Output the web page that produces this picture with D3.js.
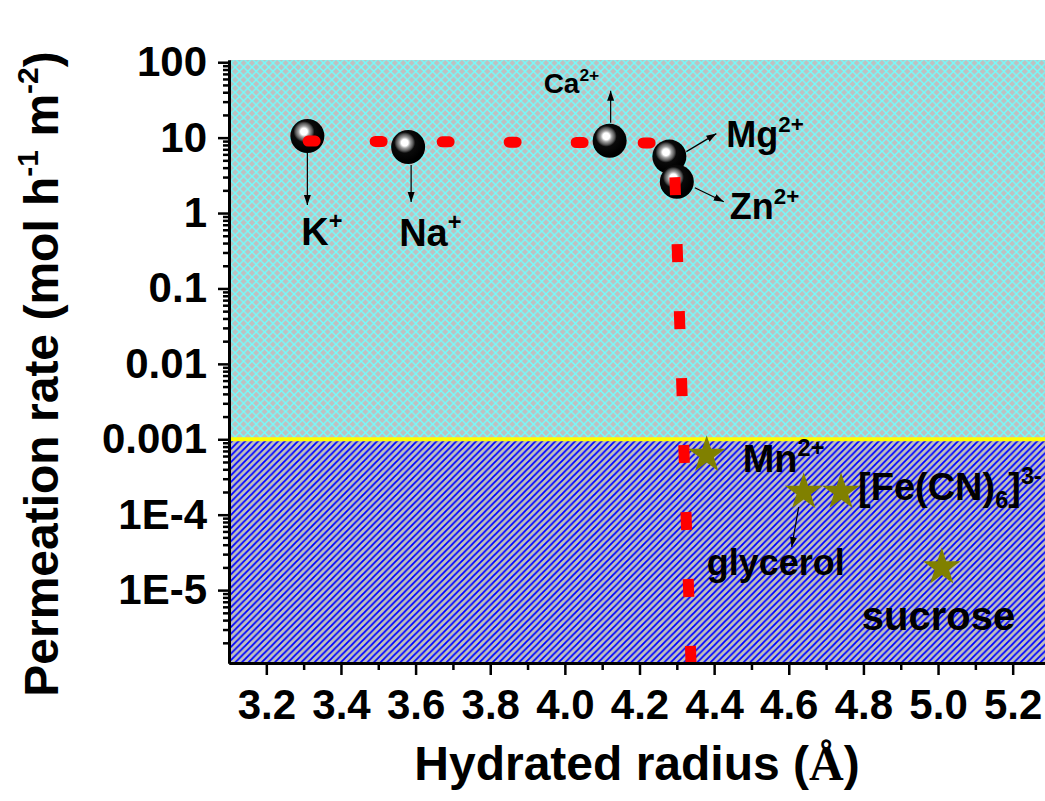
<!DOCTYPE html>
<html>
<head>
<meta charset="utf-8">
<script src="https://cdn.jsdelivr.net/npm/d3@7"></script>
<style>
  body { margin: 0; background: #fff; }
  svg { display: block; }
  text { font-family: "Liberation Sans", Arial, sans-serif; font-weight: bold; fill: #000; }
</style>
</head>
<body>
<svg id="chart" width="1045" height="801"></svg>
<script>
// ---- data ----
const xTicks = [3.2, 3.4, 3.6, 3.8, 4.0, 4.2, 4.4, 4.6, 4.8, 5.0, 5.2];
const xTickLabels = ["3.2", "3.4", "3.6", "3.8", "4.0", "4.2", "4.4", "4.6", "4.8", "5.0", "5.2"];
const yTicks = [100, 10, 1, 0.1, 0.01, 0.001, 1e-4, 1e-5];
const yTickLabels = ["100", "10", "1", "0.1", "0.01", "0.001", "1E-4", "1E-5"];

// ions that pass (black balls)
const ionNames = ["K+", "Na+", "Ca2+", "Mg2+", "Zn2+"];
const ionRadius = [3.31, 3.58, 4.12, 4.28, 4.30];
const ionRate = [10.5, 7.5, 9.1, 5.6, 2.6];

// rejected species (stars)
const molNames = ["Mn2+", "glycerol", "[Fe(CN)6]3-", "sucrose"];
const molRadius = [4.38, 4.64, 4.74, 5.01];
const molRate = [6.2e-4, 2.0e-4, 2.0e-4, 2.0e-5];

// red dashed guide
const guideRadius = [3.296, 4.22, 4.293, 4.338];
const guideRate = [9.0, 8.5, 5.5, 1.08e-6];

// cutoff between the two regions
const cutoffRate = 0.001;

// ---- layout ----
const svg = d3.select("#chart");
const x = d3.scaleLinear().domain([3.1, 5.3]).range([229, 1050]);
const y = d3.scaleLog().domain([1.08e-6, 107]).range([663, 60]);

const defs = svg.append("defs");

const cross = defs.append("pattern")
  .attr("id", "cross").attr("patternUnits", "userSpaceOnUse")
  .attr("width", 8.4).attr("height", 8.4);
cross.append("rect").attr("width", 8.4).attr("height", 8.4).attr("fill", "#c0c0c0");
cross.append("path").attr("d", "M0,0L8.4,8.4M0,8.4L8.4,0")
  .attr("stroke", "#70ffff").attr("stroke-width", 1.4);

const hatch = defs.append("pattern")
  .attr("id", "hatch").attr("patternUnits", "userSpaceOnUse")
  .attr("width", 6.6).attr("height", 6.6);
hatch.append("rect").attr("width", 6.6).attr("height", 6.6).attr("fill", "#c0c0c0");
hatch.append("path").attr("d", "M0,6.6L6.6,0M-1,1L1,-1M5.6,7.6L7.6,5.6")
  .attr("stroke", "#0000ff").attr("stroke-width", 1.8);

const ball = defs.append("radialGradient").attr("id", "ball")
  .attr("cx", 0.4).attr("cy", 0.37).attr("r", 0.55);
[[0, "#ffffff"], [0.18, "#ffffff"], [0.3, "#a0a0a0"], [0.45, "#555"], [0.56, "#0a0a0a"], [1, "#000"]]
  .forEach(([o, c]) => ball.append("stop").attr("offset", o).attr("stop-color", c));

defs.append("marker").attr("id", "arrow")
  .attr("viewBox", "0 0 10 10").attr("refX", 10).attr("refY", 5)
  .attr("markerWidth", 10).attr("markerHeight", 10)
  .attr("markerUnits", "userSpaceOnUse").attr("orient", "auto")
  .append("path").attr("d", "M0,1.5L10,5L0,8.5Z").attr("fill", "#000");

// background regions
const [x0, x1] = x.range();
svg.append("rect")
  .attr("x", x0).attr("y", y.range()[1])
  .attr("width", x1 - x0).attr("height", y(cutoffRate) - y.range()[1])
  .attr("fill", "url(#cross)");
svg.append("rect")
  .attr("x", x0).attr("y", y(cutoffRate))
  .attr("width", x1 - x0).attr("height", y.range()[0] - y(cutoffRate))
  .attr("fill", "url(#hatch)");
svg.append("line")
  .attr("x1", x0).attr("x2", x1)
  .attr("y1", y(cutoffRate)).attr("y2", y(cutoffRate))
  .attr("stroke", "#ffff00").attr("stroke-width", 4);

// balls
const ions = ionNames.map((n, i) => ({ name: n, r: ionRadius[i], v: ionRate[i] }));
svg.append("g").selectAll("circle")
  .data(ions).join("circle")
  .attr("cx", d => x(d.r)).attr("cy", d => y(d.v))
  .attr("r", 17).attr("fill", "url(#ball)");

// stars
const mols = molNames.map((n, i) => ({ name: n, r: molRadius[i], v: molRate[i] }));
svg.append("g").selectAll("path")
  .data(mols).join("path")
  .attr("transform", d => `translate(${x(d.r)},${y(d.v)})`)
  .attr("d", d3.symbol(d3.symbolStar, 440))
  .attr("fill", "#808000");

// red dashed guide: horizontal part with rounded dashes, vertical with square ones
const guide = guideRadius.map((r, i) => ({ r, v: guideRate[i] }));
const line = d3.line().x(d => x(d.r)).y(d => y(d.v));
svg.append("path")
  .attr("d", line(guide.slice(0, 2)))
  .attr("fill", "none").attr("stroke", "#ff0000")
  .attr("stroke-width", 11).attr("stroke-linecap", "round")
  .attr("stroke-dasharray", "7 60").attr("transform", "translate(6,0)");
svg.append("path")
  .attr("d", line(guide.slice(2)))
  .attr("fill", "none").attr("stroke", "#ff0000")
  .attr("stroke-width", 11).attr("stroke-dasharray", "18 49")
  .attr("stroke-dashoffset", 47);

// annotations (pixel offsets from each mark)
const notes = {
  "K+":          { parts: [["K"], ["+", "sup"]], size: 38, lx: -6, ly: 109, arrow: [0, 17, 0, 69] },
  "Na+":         { parts: [["Na"], ["+", "sup"]], size: 38, lx: -9, ly: 99, arrow: [3, 18, 3, 55] },
  "Ca2+":        { parts: [["Ca"], ["2+", "sup"]], size: 28, lx: -66, ly: -48, arrow: [1, -18, 1, -50] },
  "Mg2+":        { parts: [["Mg"], ["2+", "sup"]], size: 36, lx: 57, ly: -10, arrow: [17, -5, 47, -23] },
  "Zn2+":        { parts: [["Zn"], ["2+", "sup"]], size: 36, lx: 53, ly: 37, arrow: [18, 6, 47, 20] },
  "Mn2+":        { parts: [["Mn"], ["2+", "sup"]], size: 38, lx: 36, ly: 17 },
  "glycerol":    { parts: [["glycerol"]], size: 36, lx: -97, ly: 83, arrow: [-5, 15, -12, 55] },
  "[Fe(CN)6]3-": { parts: [["[Fe(CN)"], ["6", "sub"], ["]"], ["3-", "sup"]], size: 38, lx: 17, ly: 8 },
  "sucrose":     { parts: [["sucrose"]], size: 40, lx: -80, ly: 63 }
};

function richText(g, parts, size) {
  const t = g.append("text").attr("font-size", size);
  let shift = 0;
  parts.forEach(([s, kind]) => {
    const target = kind === "sup" ? -0.42 * size : kind === "sub" ? 0.22 * size : 0;
    t.append("tspan")
      .attr("dy", target - shift)
      .attr("font-size", kind ? size * 0.62 : size)
      .text(s);
    shift = target;
  });
  return t;
}

ions.concat(mols).forEach(d => {
  const n = notes[d.name];
  const px = x(d.r), py = y(d.v);
  if (n.arrow) {
    const [ax1, ay1, ax2, ay2] = n.arrow;
    svg.append("line")
      .attr("x1", px + ax1).attr("y1", py + ay1)
      .attr("x2", px + ax2).attr("y2", py + ay2)
      .attr("stroke", "#000").attr("stroke-width", 1.2)
      .attr("marker-end", "url(#arrow)");
  }
  const g = svg.append("g").attr("transform", `translate(${px + n.lx},${py + n.ly})`);
  richText(g, n.parts, n.size);
});

// axes
const xAxis = svg.append("g").attr("transform", `translate(0,${y.range()[0]})`)
  .call(d3.axisBottom(x).tickValues(xTicks)
    .tickFormat((d, i) => xTickLabels[i]).tickSize(12).tickSizeOuter(0).tickPadding(14));
svg.append("g").attr("transform", `translate(0,${y.range()[0]})`)
  .call(d3.axisBottom(x).tickValues(d3.range(3.3, 5.3, 0.2)).tickFormat("").tickSize(7).tickSizeOuter(0));

const yMinor = [];
for (let e = -6; e <= 1; e++) for (let m = 2; m <= 9; m++) {
  const v = m * Math.pow(10, e);
  if (v >= y.domain()[0] && v <= y.domain()[1]) yMinor.push(v);
}
svg.append("g").attr("transform", `translate(${x0},0)`)
  .call(d3.axisLeft(y).tickValues(yMinor).tickFormat("").tickSize(6).tickSizeOuter(0));
const yAxis = svg.append("g").attr("transform", `translate(${x0},0)`)
  .call(d3.axisLeft(y).tickValues(yTicks)
    .tickFormat((d, i) => yTickLabels[i]).tickSize(11).tickSizeOuter(0).tickPadding(11));

svg.selectAll(".domain").attr("stroke-width", 3);
svg.selectAll(".tick line").attr("stroke-width", 2.5);
xAxis.selectAll("text").attr("font-size", 42).attr("font-family", null).attr("fill", "#000");
yAxis.selectAll("text").attr("font-size", 42).attr("font-family", null).attr("fill", "#000");

// axis titles
const xt = svg.append("text").attr("x", 637).attr("y", 780)
  .attr("text-anchor", "middle").attr("font-size", 48);
xt.append("tspan").text("Hydrated radius (");
xt.append("tspan").attr("font-family", "'Liberation Serif', 'Times New Roman', serif").text("Å");
xt.append("tspan").text(")");

const yt = svg.append("text")
  .attr("transform", "translate(58,374) rotate(-90)")
  .attr("text-anchor", "middle").attr("font-size", 48);
yt.append("tspan").text("Permeation rate (mol h");
yt.append("tspan").attr("font-size", 30).attr("dy", -20).text("-1");
yt.append("tspan").attr("dy", 20).text(" m");
yt.append("tspan").attr("font-size", 30).attr("dy", -20).text("-2");
yt.append("tspan").attr("dy", 20).text(")");
</script>
</body>
</html>
